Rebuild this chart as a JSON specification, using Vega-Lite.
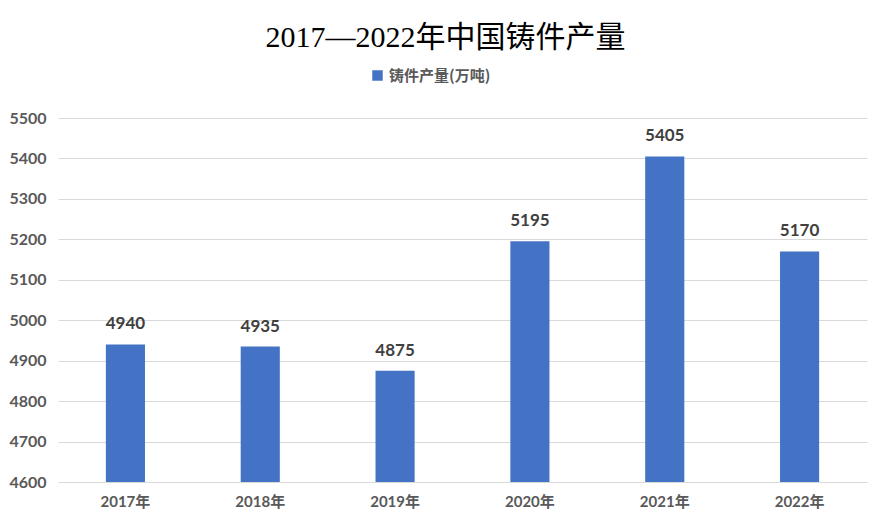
{
  "$schema": "https://vega.github.io/schema/vega-lite/v6.json",
  "width": 809,
  "height": 364,
  "autosize": {"type": "none"},
  "padding": {"left": 58, "top": 118, "right": 23, "bottom": 50},
  "background": "white",
  "title": {
    "text": "2017—2022年中国铸件产量",
    "font": "Liberation Serif, Noto Sans CJK SC",
    "fontSize": 30,
    "fontWeight": "normal",
    "color": "#000000",
    "anchor": "middle",
    "dx": -17,
    "offset": 15
  },
  "data": {
    "values": [
      {"year": "2017年", "value": 4940, "series": "铸件产量(万吨)"},
      {"year": "2018年", "value": 4935, "series": "铸件产量(万吨)"},
      {"year": "2019年", "value": 4875, "series": "铸件产量(万吨)"},
      {"year": "2020年", "value": 5195, "series": "铸件产量(万吨)"},
      {"year": "2021年", "value": 5405, "series": "铸件产量(万吨)"},
      {"year": "2022年", "value": 5170, "series": "铸件产量(万吨)"}
    ]
  },
  "encoding": {
    "x": {
      "field": "year",
      "type": "nominal",
      "sort": null,
      "scale": {"paddingInner": 0.71, "paddingOuter": 0.355},
      "axis": {
        "title": null,
        "labelAngle": 0,
        "ticks": false,
        "domain": false,
        "labelFont": "Lato, Noto Sans CJK SC",
        "labelFontSize": 15,
        "labelFontWeight": "bold",
        "labelColor": "#595959",
        "labelPadding": 12
      }
    }
  },
  "layer": [
    {
      "mark": {"type": "bar", "color": "#4472C4"},
      "encoding": {
        "y": {
          "field": "value",
          "type": "quantitative",
          "scale": {"domain": [4600, 5500], "zero": false, "nice": false},
          "axis": {
            "title": null,
            "values": [4600, 4700, 4800, 4900, 5000, 5100, 5200, 5300, 5400, 5500],
            "format": "d",
            "ticks": false,
            "domain": false,
            "gridColor": "#D9D9D9",
            "gridWidth": 1,
            "labelFont": "Lato, Noto Sans CJK SC",
            "labelFontSize": 16,
            "labelFontWeight": "bold",
            "labelColor": "#595959",
            "labelPadding": 12
          }
        },
        "y2": {"datum": 4600},
        "color": {
          "field": "series",
          "type": "nominal",
          "scale": {"range": ["#4472C4"]},
          "legend": {
            "title": null,
            "orient": "none",
            "legendX": 312,
            "legendY": -50,
            "symbolType": "square",
            "symbolSize": 110,
            "labelFont": "Noto Sans CJK SC",
            "labelFontSize": 15,
            "labelColor": "#595959",
            "labelFontWeight": "bold"
          }
        }
      }
    },
    {
      "mark": {
        "type": "text",
        "baseline": "bottom",
        "dy": -11,
        "font": "Lato, Noto Sans CJK SC",
        "fontSize": 17,
        "fontWeight": "bold",
        "color": "#404040"
      },
      "encoding": {
        "y": {"field": "value", "type": "quantitative"},
        "text": {"field": "value", "type": "quantitative", "format": "d"}
      }
    }
  ],
  "config": {
    "view": {"stroke": null}
  }
}
